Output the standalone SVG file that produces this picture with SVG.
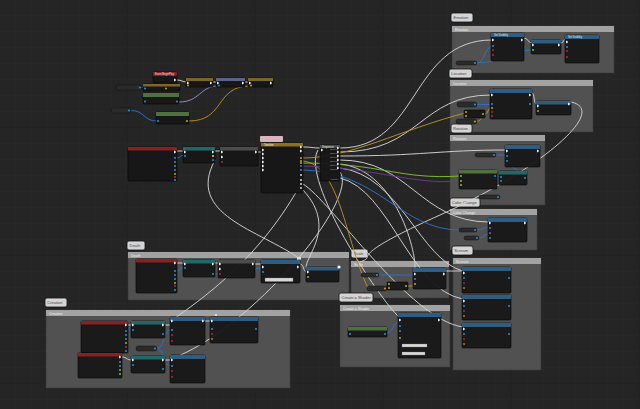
<svg xmlns="http://www.w3.org/2000/svg" width="640" height="409" viewBox="0 0 640 409">
<defs>
<pattern id="gMinor" width="16" height="16" patternUnits="userSpaceOnUse">
<path d="M16,0 V16 M0,16 H16" fill="none" stroke="#2c2c2c" stroke-width="0.5"/>
</pattern>
<pattern id="gMajor" width="128" height="128" patternUnits="userSpaceOnUse">
<rect width="128" height="128" fill="url(#gMinor)"/>
<path d="M128,0 V128 M0,128 H128" fill="none" stroke="#1c1c1c" stroke-width="0.8"/>
</pattern>
<path id="ex" d="M0,-1.2 h1 l1.1,1.2 l-1.1,1.2 h-1z" fill="#ececec"/>
<circle id="pin" r="0.9"/>
<style>
.cbox{fill:#585858;fill-opacity:0.88;stroke:#3a3a3a;stroke-width:0.6}
.chdr{fill:#a2a2a2}
.ctxt{font-family:"Liberation Sans",Arial,sans-serif;font-size:3.6px;fill:#ededed}
.tag{fill:#d4d4d4;stroke:#111;stroke-width:0.8}
.tagt{font-family:"Liberation Sans",Arial,sans-serif;font-size:4px;fill:#444}
.body{fill:#161616;fill-opacity:0.94;stroke:#050505;stroke-width:0.6}
.var{fill:#2b2b2b;stroke:#111;stroke-width:0.5}
.hr{fill:#8c1f1f}.hb{fill:#2d5d80}.hg{fill:#4f7040}.ht{fill:#1e6a6a}.hk{fill:#4c4c4c}.hy{fill:#7a6628}.hl{fill:#5f6486}.hgo{fill:#8e6f23}
.nt{font-family:"Liberation Sans",Arial,sans-serif;font-size:2.6px;fill:#f0f0f0}
.pt{font-family:"Liberation Sans",Arial,sans-serif;font-size:2.2px;fill:#bdbdbd}
.pb{fill:#2aa0e8}.py{fill:#e0b020}.pg{fill:#8cd43a}.pr{fill:#c03030}.pp{fill:#9a5ad0}.pw{fill:#e8e8e8}.po{fill:#d07a20}
.w{fill:none;stroke-width:0.95}
.wx{stroke:#d4d4d4}.wy{stroke:#b8901f}.wb{stroke:#2a72c8}.wg{stroke:#7fbf2a}.wl{stroke:#8f93d6}.wp{stroke:#6a3a8e}
.field{fill:#d8d8d8;stroke:#777;stroke-width:0.3}
</style>
</defs>
<rect width="640" height="409" fill="#252525"/>
<rect width="640" height="409" fill="url(#gMajor)"/>

<g id="comments">
<g id="cm_emotion"><rect class="cbox" x="452" y="26" width="162" height="47"/><rect class="chdr" x="452" y="26" width="162" height="6"/><text class="ctxt" x="455" y="30.6">Emotion</text><rect class="tag" x="451" y="13" width="22" height="9" rx="2"/><text class="tagt" x="453.5" y="19.3">Emotion</text></g>
<g id="cm_location"><rect class="cbox" x="450" y="80" width="143" height="52"/><rect class="chdr" x="450" y="80" width="143" height="6"/><text class="ctxt" x="453" y="84.6">Location</text><rect class="tag" x="449" y="69" width="23" height="9" rx="2"/><text class="tagt" x="451.3" y="75.3">Location</text></g>
<g id="cm_rotation"><rect class="cbox" x="450" y="135" width="95" height="70"/><rect class="chdr" x="450" y="135" width="95" height="6"/><text class="ctxt" x="453" y="139.6">Rotation</text><rect class="tag" x="451" y="124" width="21" height="9" rx="2"/><text class="tagt" x="453" y="130.3">Rotation</text></g>
<g id="cm_color"><rect class="cbox" x="450" y="209" width="87" height="41"/><rect class="chdr" x="450" y="209" width="87" height="6"/><text class="ctxt" x="453" y="213.6">Color Change</text><rect class="tag" x="450" y="198" width="30" height="9" rx="2"/><text class="tagt" x="452" y="204.3">Color Change</text></g>
<g id="cm_scream"><rect class="cbox" x="453" y="258" width="88" height="112"/><rect class="chdr" x="453" y="258" width="88" height="6"/><text class="ctxt" x="456" y="262.6">Scream</text><rect class="tag" x="452" y="246" width="21" height="9" rx="2"/><text class="tagt" x="454.3" y="252.3">Scream</text></g>
<g id="cm_death"><rect class="cbox" x="128" y="252" width="221" height="48"/><rect class="chdr" x="128" y="252" width="221" height="6"/><text class="ctxt" x="131" y="256.6">Death</text><rect class="tag" x="127" y="241" width="18" height="9" rx="2"/><text class="tagt" x="129.5" y="247.3">Death</text></g>
<g id="cm_scale"><rect class="cbox" x="351" y="261" width="98" height="37"/><rect class="chdr" x="351" y="261" width="98" height="6"/><text class="ctxt" x="354" y="265.6">Scale</text><rect class="tag" x="351" y="249" width="17" height="9" rx="2"/><text class="tagt" x="353.5" y="255.3">Scale</text></g>
<g id="cm_shader"><rect class="cbox" x="340" y="305" width="110" height="62"/><rect class="chdr" x="340" y="305" width="110" height="6"/><text class="ctxt" x="343" y="309.6">Create a Shader</text><rect class="tag" x="339" y="293" width="34" height="9" rx="2"/><text class="tagt" x="341.5" y="299.3">Create a Shader</text></g>
<g id="cm_creation"><rect class="cbox" x="46" y="310" width="244" height="78"/><rect class="chdr" x="46" y="310" width="244" height="6"/><text class="ctxt" x="49" y="314.6">Creation</text><rect class="tag" x="45" y="298" width="22" height="9" rx="2"/><text class="tagt" x="47.3" y="304.3">Creation</text></g>
</g>

<g id="connectors">
<path class="w wx" d="M177,80 C182,80 182,82 187,82"/>
<path class="w wx" d="M213,82 H217"/>
<path class="w wx" d="M245,82 H249"/>
<path class="w wb" d="M142,87.5 H144"/>
<path class="w wl" d="M179,102 C200,102 200,86 218,86"/>
<path class="w wb" d="M131,110.5 C145,110.5 143,121 157,121"/>
<path class="w wy" d="M189,121 C225,121 215,86 250,86"/>
<path class="w wx" d="M177,151 H184"/>
<path class="w wb" d="M177,158 C181,158 180,155 184,155"/>
<path class="w wx" d="M215,151 H221"/>
<path class="w wx" d="M258,152 H262"/>
<path class="w wx" d="M303,147 C312,147 312,148 321,148"/>
<path class="w wx" d="M340,148 C420,148 410,40 492,40"/>
<path class="w wx" d="M340,152 C420,152 420,95 491,95"/>
<path class="w wx" d="M340,156 C420,156 440,150 506,150"/>
<path class="w wx" d="M340,160 C410,160 420,222 489,222"/>
<path class="w wx" d="M340,164 C400,170 420,266 414,272"/>
<path class="w wx" d="M340,168 C400,175 420,260 463,271"/>
<path class="w wx" d="M340,178 C390,190 410,290 463,299"/>
<path class="w wx" d="M318,150 C300,180 380,300 399,317"/>
<path class="w wx" d="M303,184 C330,200 410,320 463,327"/>
<path class="w wx" d="M303,190 C340,230 300,260 307,270"/>
<path class="w wx" d="M215,160 C185,215 260,230 300,259"/>
<path class="w wx" d="M303,180 C260,260 200,300 171,321"/>
<path class="w wx" d="M340,172 C360,200 250,330 171,359"/>
<path class="w wx" d="M571,102 C610,110 540,170 440,215 S380,255 360,262"/>
<path class="w wy" d="M303,158 C350,158 400,130 465,113"/>
<path class="w wy" d="M303,161 C340,165 345,240 368,288"/>
<path class="w wg" d="M303,163 C380,163 400,180 460,176"/>
<path class="w wp" d="M303,166 C380,168 410,185 460,181"/>
<path class="w wb" d="M303,170 C380,172 400,230 460,230"/>
<path class="w wb" d="M477,63 C485,63 484,47 492,47"/>
<path class="w wb" d="M477,63 C500,63 515,50 532,50"/>
<path class="w wx" d="M524,38 C528,38 528,43 532,43"/>
<path class="w wx" d="M561,43 C564,43 563,39 566,39"/>
<path class="w wb" d="M477,104.5 H491"/>
<path class="w wy" d="M485,114 C488,114 488,108 491,108"/>
<path class="w wy" d="M477,121.5 C481,121.5 481,116 485,116"/>
<path class="w wx" d="M532,93 C535,93 533,104 537,104"/>
<path class="w wb" d="M496,155 H506"/>
<path class="w wb" d="M497,176 C499,176 498,177 500,177"/>
<path class="w wb" d="M527,178 C535,178 500,162 506,162"/>
<path class="w wb" d="M477,230 C482,230 484,227 489,227"/>
<path class="w wb" d="M479,238 C484,238 484,234 489,234"/>
<path class="w wx" d="M177,263 H184"/>
<path class="w wb" d="M177,271 C180,271 181,267 184,267"/>
<path class="w wx" d="M215,263 H219"/>
<path class="w wx" d="M255,264 H262"/>
<path class="w wx" d="M300,264 C304,264 303,272 307,272"/>
<path class="w wb" d="M215,274 C238,274 242,268 262,268"/>
<path class="w wb" d="M379,275 H414"/>
<path class="w wy" d="M387,288 C392,288 392,286 388,286"/>
<path class="w wy" d="M408,286 H414"/>
<path class="w wb" d="M387,333 C393,333 393,322 399,322"/>
<path class="w wx" d="M446,271 C452,271 455,271 463,271"/>
<path class="w wx" d="M128,325 H132"/>
<path class="w wx" d="M165,325 H171"/>
<path class="w wx" d="M205,321 H211"/>
<path class="w wb" d="M157,348.5 C165,348.5 162,330 171,330"/>
<path class="w wb" d="M157,348.5 C165,348.5 162,366 171,366"/>
<path class="w wx" d="M122,357 C127,357 126,360 132,360"/>
<path class="w wx" d="M165,360 H171"/>
<path class="w wb" d="M128,329 C130,329 130,326 132,326"/>
</g>

<g id="n_begin1"><rect class="body" x="153" y="72" width="24" height="11" rx="1"/><rect class="hr" x="153" y="72" width="24" height="4" rx="1"/><text class="nt" x="155" y="75">Event BeginPlay</text><use href="#ex" x="174" y="80"/></g>
<g id="n_setloc"><rect class="body" x="143" y="84" width="37" height="7" rx="1"/><rect class="hy" x="143" y="84" width="37" height="2.5"/><use href="#pin" class="pb" x="145" y="88.5"/><use href="#pin" class="py" x="166" y="88.5"/></g>
<g id="n_var1"><rect class="var" x="116" y="85" width="26" height="5" rx="2.5"/><use href="#pin" class="pb" x="140" y="87.5"/></g>
<g id="n_u4"><rect class="body" x="186" y="78" width="27" height="9" rx="1"/><rect class="hy" x="186" y="78" width="27" height="3"/><use href="#ex" x="187" y="83"/><use href="#ex" x="210" y="83"/><use href="#pin" class="py" x="188" y="85.5"/></g>
<g id="n_u5"><rect class="body" x="216" y="78" width="29" height="9" rx="1"/><rect class="hl" x="216" y="78" width="29" height="3"/><use href="#ex" x="217" y="83"/><use href="#ex" x="242" y="83"/><use href="#pin" class="pb" x="219" y="85.5"/></g>
<g id="n_u6"><rect class="body" x="248" y="78" width="25" height="9" rx="1"/><rect class="hy" x="248" y="78" width="25" height="3"/><use href="#ex" x="249" y="83"/><use href="#ex" x="270" y="83"/><use href="#pin" class="py" x="251" y="85.5"/></g>
<g id="n_u7"><rect class="body" x="143" y="93" width="36" height="11" rx="1"/><rect class="hg" x="143" y="93" width="36" height="4"/><use href="#pin" class="pb" x="145" y="101.5"/><use href="#pin" class="pb" x="177" y="101.5"/></g>
<g id="n_var2"><rect class="var" x="111" y="108" width="20" height="5" rx="2.5"/><use href="#pin" class="pb" x="129" y="110.5"/></g>
<g id="n_u9"><rect class="body" x="156" y="112" width="33" height="12" rx="1"/><rect class="hg" x="156" y="112" width="33" height="4"/><use href="#pin" class="pb" x="158" y="121"/><use href="#pin" class="py" x="187" y="121"/></g>

<g id="n_c1"><rect class="body" x="128" y="147" width="49" height="34" rx="1"/><rect class="hr" x="128" y="147" width="49" height="3.5"/><use href="#ex" x="174" y="152"/><use href="#pin" class="pb" x="175" y="158"/><use href="#pin" class="pb" x="175" y="162"/><use href="#pin" class="pb" x="175" y="166"/><use href="#pin" class="pb" x="175" y="170"/><use href="#pin" class="pg" x="175" y="174"/><use href="#pin" class="pr" x="175" y="177"/><use href="#pin" class="pb" x="175" y="180"/></g>
<g id="n_c2"><rect class="body" x="183" y="147" width="32" height="16" rx="1"/><rect class="ht" x="183" y="147" width="32" height="3.5"/><use href="#ex" x="184" y="152"/><use href="#ex" x="212" y="152"/><use href="#pin" class="pb" x="185" y="156"/><use href="#pin" class="pw" x="213" y="156"/><use href="#pin" class="pb" x="213" y="160"/></g>
<g id="n_c3"><rect class="body" x="220" y="147" width="38" height="19" rx="1"/><rect class="hk" x="220" y="147" width="38" height="3.5"/><use href="#ex" x="221" y="152"/><use href="#ex" x="255" y="152"/><use href="#ex" x="221" y="157"/><use href="#pin" class="pr" x="222" y="162"/></g>
<g id="n_c4"><rect x="260" y="136" width="23" height="6" rx="1" fill="#d8b4bc"/><rect class="body" x="261" y="143" width="42" height="50" rx="1"/><rect class="hgo" x="261" y="143" width="42" height="3.5"/><text class="nt" x="264" y="146">Timeline</text><use href="#ex" x="262" y="150"/><use href="#ex" x="262" y="154"/><use href="#ex" x="262" y="158"/><use href="#ex" x="262" y="162"/><use href="#ex" x="262" y="166"/><use href="#ex" x="262" y="170"/><use href="#ex" x="300" y="147"/><use href="#ex" x="300" y="151"/><use href="#pin" class="py" x="301" y="158"/><use href="#pin" class="py" x="301" y="161"/><use href="#pin" class="pg" x="301" y="163"/><use href="#pin" class="pp" x="301" y="166"/><use href="#pin" class="pb" x="301" y="170"/><use href="#pin" class="pw" x="301" y="175"/><use href="#pin" class="pw" x="301" y="180"/><use href="#pin" class="pw" x="301" y="184"/><use href="#pin" class="pw" x="301" y="188"/></g>
<g id="n_seq"><rect class="body" x="320" y="145" width="20" height="36" rx="1"/><rect class="hk" x="320" y="145" width="20" height="3"/><text class="nt" x="322" y="147.6">Sequence</text><use href="#ex" x="321" y="150"/><text class="pt" x="330" y="149.5">Then 0</text><use href="#ex" x="337" y="148"/><text class="pt" x="330" y="153.5">Then 1</text><use href="#ex" x="337" y="152"/><text class="pt" x="330" y="157.5">Then 2</text><use href="#ex" x="337" y="156"/><text class="pt" x="330" y="161.5">Then 3</text><use href="#ex" x="337" y="160"/><text class="pt" x="330" y="165.5">Then 4</text><use href="#ex" x="337" y="164"/><text class="pt" x="330" y="169.5">Then 5</text><use href="#ex" x="337" y="168"/><text class="pt" x="330" y="179.5">Add pin +</text></g>

<g id="n_e1"><rect class="body" x="491" y="33" width="33" height="28" rx="1"/><rect class="hb" x="491" y="33" width="33" height="4"/><text class="nt" x="494" y="36">Set Visibility</text><use href="#ex" x="492" y="40"/><use href="#ex" x="521" y="40"/><use href="#pin" class="pb" x="493" y="46"/><use href="#pin" class="pr" x="493" y="50"/><use href="#pin" class="pr" x="493" y="55"/></g>
<g id="n_e2"><rect class="body" x="531" y="40" width="30" height="14" rx="1"/><rect class="hb" x="531" y="40" width="30" height="3.5"/><use href="#ex" x="532" y="45"/><use href="#ex" x="558" y="45"/><use href="#pin" class="pg" x="533" y="50"/></g>
<g id="n_e3"><rect class="body" x="565" y="35" width="34" height="28" rx="1"/><rect class="hb" x="565" y="35" width="34" height="4"/><text class="nt" x="568" y="38">Set Visibility</text><use href="#ex" x="566" y="42"/><use href="#pin" class="pb" x="567" y="47"/><use href="#pin" class="pr" x="567" y="51"/><use href="#pin" class="pr" x="567" y="57"/></g>
<g id="n_evar"><rect class="var" x="456" y="61" width="21" height="4" rx="2"/><use href="#pin" class="pb" x="475" y="63"/></g>

<g id="n_lvar"><rect class="var" x="457" y="102" width="20" height="5" rx="2.5"/><use href="#pin" class="pb" x="475" y="104.5"/></g>
<g id="n_ls1"><rect class="body" x="464" y="110" width="21" height="8" rx="1"/><use href="#pin" class="py" x="466" y="112"/><use href="#pin" class="py" x="466" y="116"/><use href="#pin" class="py" x="483" y="114"/></g>
<g id="n_ls2"><rect class="var" x="456" y="119" width="21" height="5" rx="2.5"/><use href="#pin" class="py" x="475" y="121.5"/></g>
<g id="n_l1"><rect class="body" x="490" y="89" width="42" height="30" rx="1"/><rect class="hb" x="490" y="89" width="42" height="4"/><use href="#ex" x="491" y="95"/><use href="#ex" x="529" y="95"/><use href="#pin" class="pb" x="492" y="104"/><use href="#pin" class="py" x="492" y="108"/><use href="#pin" class="pr" x="492" y="112"/><use href="#pin" class="pr" x="492" y="116"/><use href="#pin" class="pb" x="530" y="104"/></g>
<g id="n_l2"><rect class="body" x="536" y="101" width="35" height="14" rx="1"/><rect class="hb" x="536" y="101" width="35" height="3.5"/><use href="#ex" x="537" y="106"/><use href="#ex" x="568" y="104"/><use href="#pin" class="pg" x="538" y="111"/></g>

<g id="n_rvar"><rect class="var" x="475" y="153" width="21" height="4" rx="2"/><use href="#pin" class="pb" x="494" y="155"/></g>
<g id="n_r1"><rect class="body" x="505" y="145" width="35" height="22" rx="1"/><rect class="hb" x="505" y="145" width="35" height="4"/><use href="#ex" x="506" y="151"/><use href="#ex" x="537" y="151"/><use href="#pin" class="pb" x="507" y="156"/><use href="#pin" class="pb" x="507" y="161"/></g>
<g id="n_r2"><rect class="body" x="459" y="170" width="38" height="19" rx="1"/><rect class="hg" x="459" y="170" width="38" height="3.5"/><use href="#pin" class="pg" x="461" y="176"/><use href="#pin" class="pg" x="461" y="181"/><use href="#pin" class="pg" x="461" y="185"/><use href="#pin" class="pb" x="495" y="176"/></g>
<g id="n_r3"><rect class="body" x="499" y="171" width="28" height="14" rx="1"/><rect class="ht" x="499" y="171" width="28" height="3.5"/><use href="#pin" class="pb" x="501" y="177"/><use href="#pin" class="pb" x="501" y="181"/><use href="#pin" class="pb" x="525" y="178"/></g>
<g id="n_rvar2"><rect class="var" x="479" y="195" width="21" height="4" rx="2"/><use href="#pin" class="pb" x="498" y="197"/></g>

<g id="n_cc1"><rect class="body" x="488" y="218" width="39" height="24" rx="1"/><rect class="hb" x="488" y="218" width="39" height="4"/><use href="#ex" x="489" y="223"/><use href="#ex" x="524" y="223"/><use href="#pin" class="pb" x="490" y="228"/><use href="#pin" class="pp" x="490" y="233"/><use href="#pin" class="pb" x="490" y="238"/></g>
<g id="n_ccv1"><rect class="var" x="459" y="228" width="18" height="4" rx="2"/><use href="#pin" class="pb" x="475" y="230"/></g>
<g id="n_ccv2"><rect class="var" x="464" y="236" width="15" height="4" rx="2"/><use href="#pin" class="pb" x="477" y="238"/></g>

<g id="n_d1"><rect class="body" x="136" y="259" width="41" height="34" rx="1"/><rect class="hr" x="136" y="259" width="41" height="3.5"/><use href="#ex" x="174" y="263"/><use href="#pin" class="pb" x="175" y="271"/><use href="#pin" class="pb" x="175" y="275"/><use href="#pin" class="pb" x="175" y="279"/><use href="#pin" class="pg" x="175" y="283"/><use href="#pin" class="pr" x="175" y="286"/><use href="#pin" class="pb" x="175" y="290"/></g>
<g id="n_d2"><rect class="body" x="183" y="260" width="32" height="17" rx="1"/><rect class="ht" x="183" y="260" width="32" height="3.5"/><use href="#ex" x="184" y="264"/><use href="#ex" x="212" y="264"/><use href="#pin" class="pb" x="185" y="268"/><use href="#pin" class="pb" x="213" y="274"/></g>
<g id="n_d3"><rect class="body" x="218" y="260" width="37" height="18" rx="1"/><rect class="hk" x="218" y="260" width="37" height="3.5"/><use href="#ex" x="219" y="264"/><use href="#ex" x="252" y="264"/><use href="#ex" x="219" y="269"/><use href="#pin" class="pr" x="220" y="274"/></g>
<g id="n_d4"><rect class="body" x="261" y="260" width="39" height="23" rx="1"/><rect class="hb" x="261" y="260" width="39" height="4"/><use href="#ex" x="262" y="267"/><use href="#ex" x="297" y="267"/><use href="#pin" class="pb" x="263" y="272"/><rect class="field" x="265" y="278" width="28" height="3.5"/><rect x="297" y="257" width="4" height="2.5" fill="#ddd"/></g>
<g id="n_d5"><rect class="body" x="306" y="267" width="33" height="15" rx="1"/><rect class="hb" x="306" y="267" width="33" height="3.5"/><use href="#ex" x="307" y="272"/><use href="#pin" class="pg" x="308" y="277"/><circle cx="339" cy="267" r="1.6" fill="#fff"/></g>

<g id="n_svar"><rect class="var" x="361" y="273" width="18" height="4" rx="2"/><use href="#pin" class="pb" x="377" y="275"/></g>
<g id="n_sy1"><rect class="var" x="367" y="286" width="20" height="5" rx="2.5"/><use href="#pin" class="py" x="385" y="288.5"/></g>
<g id="n_sy2"><rect class="body" x="387" y="282" width="21" height="8" rx="1"/><use href="#pin" class="py" x="389" y="284"/><use href="#pin" class="py" x="389" y="288"/><use href="#pin" class="py" x="406" y="286"/></g>
<g id="n_s1"><rect class="body" x="413" y="268" width="33" height="21" rx="1"/><rect class="hb" x="413" y="268" width="33" height="4"/><use href="#ex" x="414" y="274"/><use href="#ex" x="443" y="274"/><use href="#pin" class="pb" x="415" y="279"/><use href="#pin" class="py" x="415" y="284"/></g>

<g id="n_cs1"><rect class="body" x="348" y="327" width="39" height="10" rx="1"/><rect class="hg" x="348" y="327" width="39" height="3.5"/><use href="#pin" class="pb" x="350" y="334"/><use href="#pin" class="pb" x="385" y="334"/></g>
<g id="n_cs2"><rect class="body" x="398" y="313" width="43" height="45" rx="1"/><rect class="hb" x="398" y="313" width="43" height="4"/><use href="#ex" x="399" y="320"/><use href="#ex" x="438" y="320"/><use href="#pin" class="pb" x="400" y="326"/><use href="#pin" class="pb" x="400" y="331"/><use href="#pin" class="pg" x="400" y="338"/><rect class="field" x="402" y="344" width="25" height="3"/><rect class="field" x="402" y="352" width="23" height="3"/></g>

<g id="n_sc1"><rect class="body" x="462" y="267" width="49" height="26" rx="1"/><rect class="hb" x="462" y="267" width="49" height="4"/><use href="#ex" x="463" y="273"/><use href="#pin" class="pb" x="464" y="278"/><use href="#pin" class="pr" x="464" y="283"/><use href="#pin" class="po" x="464" y="288"/><use href="#pin" class="pb" x="509" y="278"/></g>
<g id="n_sc2"><rect class="body" x="462" y="295" width="49" height="25" rx="1"/><rect class="hb" x="462" y="295" width="49" height="4"/><use href="#ex" x="463" y="301"/><use href="#pin" class="pb" x="464" y="306"/><use href="#pin" class="pr" x="464" y="311"/><use href="#pin" class="po" x="464" y="316"/><use href="#pin" class="pb" x="509" y="306"/></g>
<g id="n_sc3"><rect class="body" x="462" y="323" width="49" height="25" rx="1"/><rect class="hb" x="462" y="323" width="49" height="4"/><use href="#ex" x="463" y="329"/><use href="#pin" class="pb" x="464" y="334"/><use href="#pin" class="pr" x="464" y="339"/><use href="#pin" class="po" x="464" y="344"/><use href="#pin" class="pb" x="509" y="334"/></g>

<g id="n_cr1"><rect class="body" x="81" y="321" width="47" height="32" rx="1"/><rect class="hr" x="81" y="321" width="47" height="3.5"/><use href="#ex" x="125" y="325"/><use href="#pin" class="pb" x="126" y="331"/><use href="#pin" class="pb" x="126" y="335"/><use href="#pin" class="pb" x="126" y="339"/><use href="#pin" class="pg" x="126" y="343"/><use href="#pin" class="pr" x="126" y="347"/><use href="#pin" class="pb" x="126" y="351"/></g>
<g id="n_cr2"><rect class="body" x="131" y="321" width="34" height="17" rx="1"/><rect class="ht" x="131" y="321" width="34" height="3.5"/><use href="#ex" x="132" y="325"/><use href="#ex" x="162" y="325"/><use href="#pin" class="pb" x="133" y="330"/><use href="#pin" class="pb" x="163" y="334"/></g>
<g id="n_crvar"><rect class="var" x="136" y="346" width="21" height="5" rx="2.5"/><use href="#pin" class="pb" x="155" y="348.5"/></g>
<g id="n_cr3"><rect class="body" x="170" y="317" width="35" height="28" rx="1"/><rect class="hb" x="170" y="317" width="35" height="4"/><use href="#ex" x="171" y="321"/><use href="#ex" x="202" y="321"/><use href="#pin" class="pb" x="172" y="330"/><use href="#pin" class="pr" x="172" y="335"/><use href="#pin" class="pr" x="172" y="341"/></g>
<g id="n_cr4"><rect class="body" x="210" y="317" width="48" height="26" rx="1"/><rect class="hb" x="210" y="317" width="48" height="4"/><use href="#ex" x="211" y="321"/><use href="#pin" class="pb" x="212" y="329"/><use href="#pin" class="pr" x="212" y="334"/><use href="#pin" class="po" x="212" y="339"/><use href="#pin" class="pb" x="256" y="329"/><rect x="215" y="314" width="2" height="2" fill="#ddd"/></g>
<g id="n_cr5"><rect class="body" x="78" y="353" width="44" height="25" rx="1"/><rect class="hr" x="78" y="353" width="44" height="3.5"/><use href="#ex" x="119" y="357"/><use href="#pin" class="pb" x="120" y="362"/><use href="#pin" class="pb" x="120" y="366"/><use href="#pin" class="pg" x="120" y="370"/><use href="#pin" class="pg" x="120" y="374"/></g>
<g id="n_cr6"><rect class="body" x="131" y="356" width="34" height="17" rx="1"/><rect class="ht" x="131" y="356" width="34" height="3.5"/><use href="#ex" x="132" y="360"/><use href="#ex" x="162" y="360"/><use href="#pin" class="pb" x="133" y="365"/><use href="#pin" class="pb" x="163" y="369"/></g>
<g id="n_cr7"><rect class="body" x="170" y="355" width="35" height="28" rx="1"/><rect class="hb" x="170" y="355" width="35" height="4"/><use href="#ex" x="171" y="360"/><use href="#pin" class="pb" x="172" y="366"/><use href="#pin" class="pr" x="172" y="371"/><use href="#pin" class="pr" x="172" y="377"/></g>
</svg>
